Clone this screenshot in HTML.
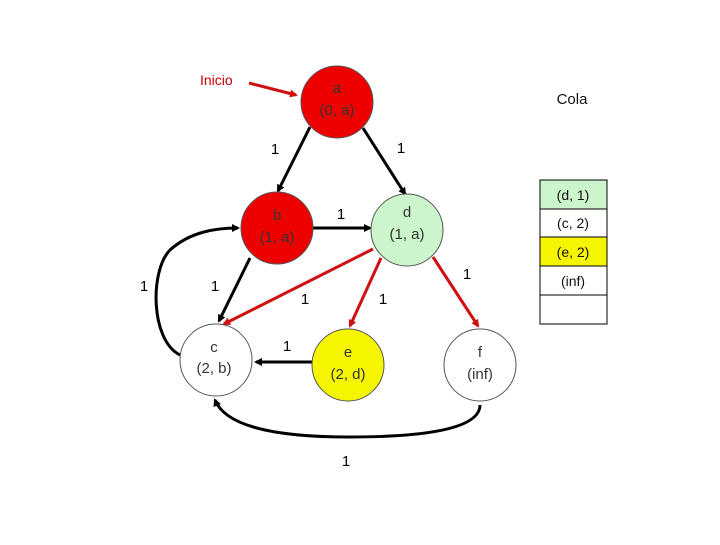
<!DOCTYPE html>
<html><head><style>
body{margin:0;background:#fff;}
svg text{font-family:"Liberation Sans",sans-serif;}
</style></head><body>
<svg width="720" height="540" viewBox="0 0 720 540" xmlns="http://www.w3.org/2000/svg">
<defs>
<marker id="ak" markerWidth="8" markerHeight="8" refX="6" refY="4" orient="auto" markerUnits="userSpaceOnUse"><path d="M0,0 L8,4 L0,8 z" fill="#000"/></marker>
<marker id="ar" markerWidth="8" markerHeight="8" refX="6" refY="4" orient="auto" markerUnits="userSpaceOnUse"><path d="M0,0 L8,4 L0,8 z" fill="#d01010"/></marker>
</defs>
<g fill="none" stroke-width="3">
<line x1="249" y1="83" x2="296" y2="95" stroke="#d01010" marker-end="url(#ar)"/>
<line x1="310" y1="127" x2="278" y2="191" stroke="#000" marker-end="url(#ak)"/>
<line x1="363" y1="128" x2="405" y2="194" stroke="#000" marker-end="url(#ak)"/>
<line x1="313" y1="228" x2="370" y2="228" stroke="#000" marker-end="url(#ak)"/>
<line x1="250" y1="258" x2="219" y2="321" stroke="#000" marker-end="url(#ak)"/>
<line x1="373" y1="249" x2="224" y2="324" stroke="#d01010" marker-end="url(#ar)"/>
<line x1="381" y1="258" x2="350" y2="326" stroke="#d01010" marker-end="url(#ar)"/>
<line x1="433" y1="257" x2="478" y2="326" stroke="#d01010" marker-end="url(#ar)"/>
<line x1="313" y1="362" x2="256" y2="362" stroke="#000" marker-end="url(#ak)"/>
<path d="M180,355 C150,340 150,270 170,250 C190,232 215,228 238,228" stroke="#000" marker-end="url(#ak)"/>
<path d="M480,405 C480,430 420,437 350,437 C270,437 225,425 215,400" stroke="#000" marker-end="url(#ak)"/>
</g>
<g stroke="#555" stroke-width="1">
<circle cx="337" cy="102" r="36" fill="#ee0000"/>
<circle cx="277" cy="228" r="36" fill="#ee0000"/>
<circle cx="407" cy="230" r="36" fill="#ccf5cc"/>
<circle cx="216" cy="360" r="36" fill="#fff"/>
<circle cx="348" cy="365" r="36" fill="#f5f500"/>
<circle cx="480" cy="365" r="36" fill="#fff"/>
</g>
<g font-size="15" text-anchor="middle" fill="#333">
<text x="337" y="93">a</text><text x="337" y="115">(0, a)</text>
<text x="277" y="220">b</text><text x="277" y="242">(1, a)</text>
<text x="407" y="217">d</text><text x="407" y="239">(1, a)</text>
<text x="214" y="352">c</text><text x="214" y="373">(2, b)</text>
<text x="348" y="357">e</text><text x="348" y="379">(2, d)</text>
<text x="480" y="357">f</text><text x="480" y="379">(inf)</text>
</g>
<text x="200" y="85" font-size="14" fill="#c00000">Inicio</text>
<text x="572" y="104" font-size="15" text-anchor="middle" fill="#111">Cola</text>
<g font-size="15" text-anchor="middle" fill="#000">
<text x="275" y="154">1</text><text x="401" y="153">1</text><text x="341" y="219">1</text>
<text x="144" y="291">1</text><text x="215" y="291">1</text><text x="305" y="304">1</text>
<text x="383" y="304">1</text><text x="467" y="279">1</text><text x="287" y="351">1</text>
<text x="346" y="466">1</text>
</g>
<g stroke="#000" stroke-width="1">
<rect x="540" y="180" width="67" height="29" fill="#ccf5cc"/>
<rect x="540" y="209" width="67" height="28" fill="#fff"/>
<rect x="540" y="237" width="67" height="29" fill="#f5f500"/>
<rect x="540" y="266" width="67" height="29" fill="#fff"/>
<rect x="540" y="295" width="67" height="29" fill="#fff"/>
</g>
<g font-size="14" text-anchor="middle" fill="#111">
<text x="573" y="200">(d, 1)</text><text x="573" y="228">(c, 2)</text>
<text x="573" y="257">(e, 2)</text><text x="573" y="286">(inf)</text>
</g>
</svg>
</body></html>
